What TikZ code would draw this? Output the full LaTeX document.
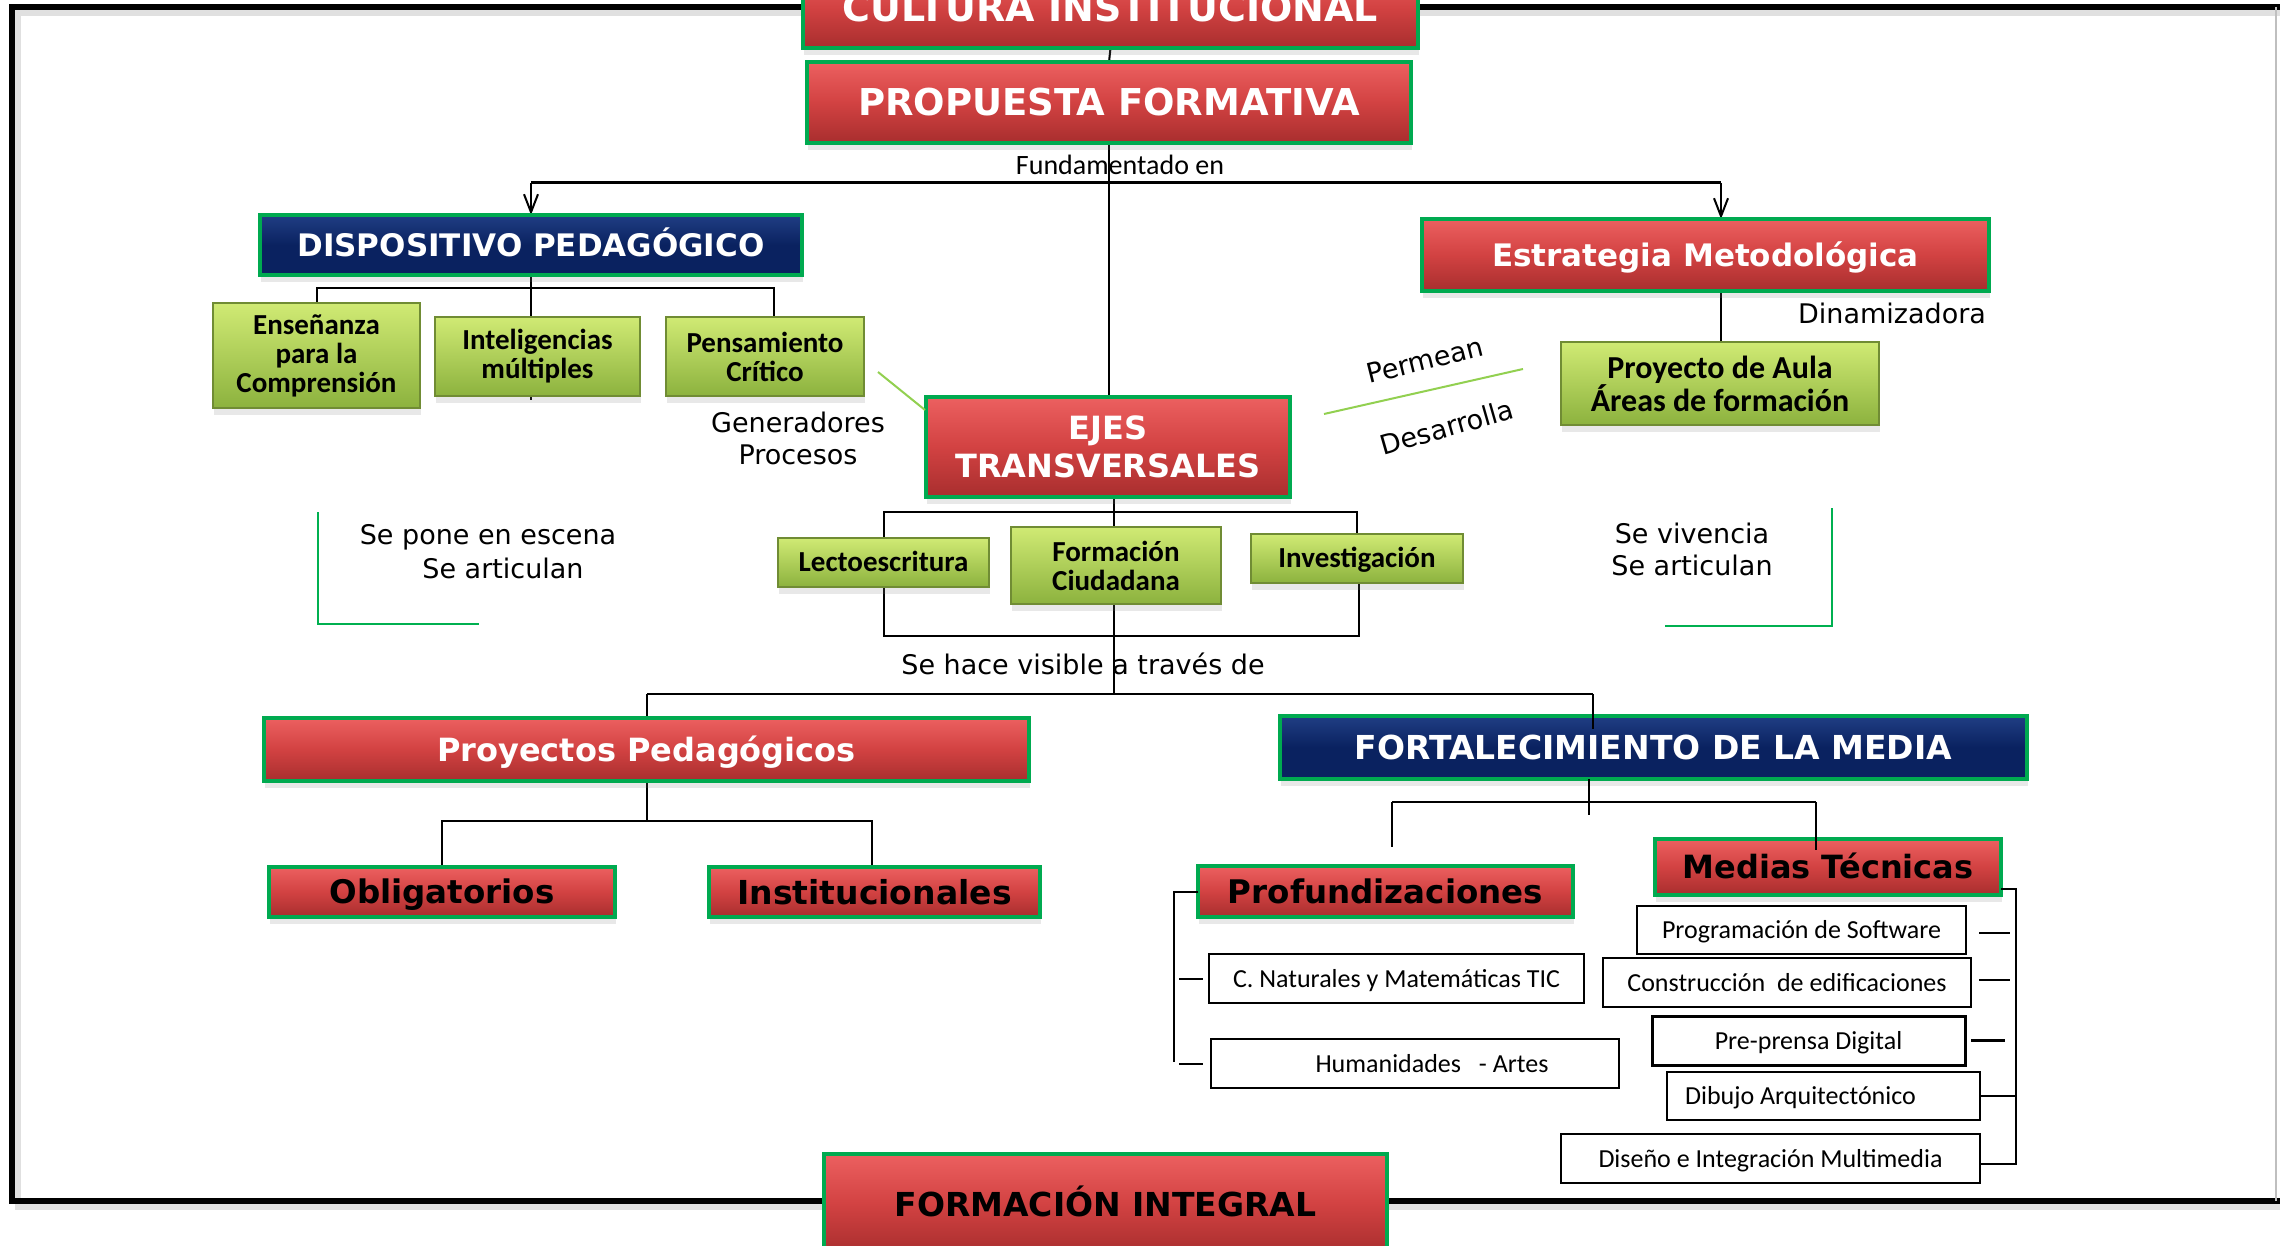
\documentclass[tikz,border=0pt]{standalone}
\usepackage{fontspec}
\setmainfont{DejaVu Sans}
\newfontfamily\calfont{Carlito}
\usetikzlibrary{arrows.meta,shadows,backgrounds}
\definecolor{gborder}{RGB}{0,170,80}
\definecolor{redtop}{RGB}{236,96,96}
\definecolor{redmid}{RGB}{210,66,66}
\definecolor{redbot}{RGB}{168,46,46}
\definecolor{bluetop}{RGB}{32,62,132}
\definecolor{bluebot}{RGB}{10,34,96}
\definecolor{lgtop}{RGB}{208,234,116}
\definecolor{lgbot}{RGB}{140,178,62}
\definecolor{lgdraw}{RGB}{112,140,52}
\definecolor{linegreen}{RGB}{146,208,80}
\definecolor{brgreen}{RGB}{0,176,80}
\newcommand\fs[2]{\fontsize{#1}{#2}\selectfont}
\tikzset{
  box/.style={rectangle, inner sep=0pt, outer sep=0pt, align=center,
    drop shadow={shadow xshift=1pt, shadow yshift=-7pt, opacity=0.18}},
  redbox/.style={box, top color=redtop, bottom color=redbot, middle color=redmid,
    draw=gborder, line width=3.5pt},
  bluebox/.style={box, top color=bluetop, bottom color=bluebot, middle color=bluebot,
    draw=gborder, line width=3.5pt},
  greenbox/.style={box, top color=lgtop, bottom color=lgbot, draw=lgdraw, line width=1.5pt,
    font=\calfont\fs{29}{29}\bfseries},
  whitebox/.style={rectangle, inner sep=0pt, outer sep=0pt, fill=white, draw=black,
    line width=2pt, font=\calfont\fs{26}{30}, text height=17pt, text depth=0pt},
  capc/.style={text height=#1, text depth=0pt},
  lbl/.style={inner sep=0pt, align=center, font=\fs{27}{32}},
  conn/.style={draw=black, line width=2pt},
  lgline/.style={draw=linegreen, line width=2pt},
  gbr/.style={draw=brgreen, line width=2.2pt},
  frame/.style={draw=black, line width=6pt},
  fshadow/.style={draw=black, opacity=0.12, line width=6pt},
  arr/.style={conn, -{Straight Barb[length=18pt,width=14pt,line width=2pt]}}
}
\begin{document}
\begin{tikzpicture}[x=1pt,y=-1pt]
\useasboundingbox (0,0) rectangle (2280,1246);
\clip (0,0) rectangle (2280,1246);

% ---------- main boxes ----------
\node[redbox, capc=27.7pt, minimum width=615, minimum height=80, font=\fs{38}{44}\bfseries, text=white] (cultura) at (1110.5,8) {CULTURA INSTITUCIONAL};
\node[redbox, capc=27pt, minimum width=604, minimum height=81, font=\fs{37}{44}\bfseries, text=white] (propuesta) at (1109,102.5) {PROPUESTA FORMATIVA};
\node[bluebox, capc=22.6pt, minimum width=542, minimum height=60, font=\fs{31}{36}\bfseries, text=white] (dispositivo) at (531,245) {DISPOSITIVO PEDAGÓGICO};
\node[redbox, capc=22.6pt, minimum width=567, minimum height=72, font=\fs{31}{36}\bfseries, text=white] (estrategia) at (1705.5,255) {Estrategia Metodológica};
\node[redbox, minimum width=364, minimum height=100, font=\fs{32}{38}\bfseries, text=white] (ejes) at (1108,447) {EJES\\TRANSVERSALES};

\node[greenbox, minimum width=207, minimum height=105] (ensenanza) at (316.5,355.5) {Enseñanza\\para la\\Comprensión};
\node[greenbox, minimum width=205, minimum height=79] (inteligencias) at (537.5,356.5) {Inteligencias\\múltiples};
\node[greenbox, minimum width=198, minimum height=79] (pensamiento) at (765,356.5) {Pensamiento\\Crítico};
\node[greenbox, minimum width=318, minimum height=83, font=\calfont\fs{32}{31}\bfseries] (proyaula) at (1720,383.5) {Proyecto de Aula\\Áreas de formación};

\node[greenbox, capc=18.7pt, minimum width=211, minimum height=49] (lecto) at (883.5,562.5) {Lectoescritura};
\node[greenbox, minimum width=210, minimum height=77] (formacion) at (1116,565.5) {Formación\\Ciudadana};
\node[greenbox, capc=18.7pt, minimum width=212, minimum height=49] (investigacion) at (1357,558.5) {Investigación};

\node[redbox, capc=23.4pt, minimum width=765, minimum height=63, font=\fs{32}{36}\bfseries, text=white] (proyped) at (646.5,749.5) {Proyectos Pedagógicos};
\node[bluebox, capc=24pt, minimum width=747, minimum height=63, font=\fs{33}{36}\bfseries, text=white] (fortalecimiento) at (1653.5,747.5) {FORTALECIMIENTO DE LA MEDIA};

\node[redbox, capc=23.7pt, minimum width=346, minimum height=50, font=\fs{32.5}{36}\bfseries, text=black] (obligatorios) at (442,892) {Obligatorios};
\node[redbox, capc=24pt, minimum width=331, minimum height=50, font=\fs{33}{36}\bfseries, text=black] (institucionales) at (874.5,892) {Institucionales};
\node[redbox, capc=23.7pt, minimum width=375, minimum height=51, font=\fs{32.5}{36}\bfseries, text=black] (profund) at (1385.5,891.5) {Profundizaciones};
\node[redbox, capc=23.4pt, minimum width=346, minimum height=56, font=\fs{32}{36}\bfseries, text=black] (medias) at (1828,867) {Medias Técnicas};
\node[redbox, capc=24pt, minimum width=563, minimum height=100, font=\fs{33}{36}\bfseries, text=black] (formint) at (1105.5,1204) {FORMACIÓN INTEGRAL};

% ---------- white boxes ----------
\node[whitebox, minimum width=375, minimum height=49] (cnat) at (1396.5,978.5) {C. Naturales y Matemáticas TIC};
\node[whitebox, minimum width=408, minimum height=49] (human) at (1415,1063.5) {\hspace*{34pt}Humanidades\hspace{12pt} - Artes};
\node[whitebox, minimum width=329, minimum height=48] (prog) at (1801.5,930) {Programación de Software};
\node[whitebox, minimum width=368, minimum height=49] (constr) at (1787,982.5) {Construcción\hspace{6pt} de edificaciones};
\node[whitebox, minimum width=313, minimum height=49, line width=3pt] (preprensa) at (1808.5,1040.5) {Pre-prensa Digital};
\node[whitebox, minimum width=313, minimum height=48] (dibujo) at (1823.5,1096) {Dibujo Arquitectónico\hspace*{46pt}};
\node[whitebox, minimum width=419, minimum height=49] (diseno) at (1770.5,1158.5) {Diseño e Integración Multimedia};

% ---------- labels ----------
\node[lbl, font=\calfont\fs{28}{32}] (fund) at (1120,165) {Fundamentado en};
\node[lbl] (gener) at (798,438) {Generadores\\Procesos};
\node[lbl] (escena) at (488,537) {Se pone en escena};
\node[lbl] (artic1) at (503,568) {Se articulan};
\node[lbl] (vivencia) at (1692,549) {Se vivencia\\Se articulan};
\node[lbl] (dinam) at (1892,313) {Dinamizadora};
\node[lbl] (visible) at (1083,664) {Se hace visible a través de};
\node[lbl, rotate=14] (permean) at (1425,360) {Permean};
\node[lbl, rotate=16] (desarrolla) at (1447,427) {Desarrolla};

% ---------- named junctions ----------
\coordinate (ft) at (0,7);
\coordinate (fb) at (0,1201);
\coordinate (jL) at (531,183);
\coordinate (jR) at (1721,183);
\coordinate (dL) at (316.5,288);
\coordinate (dR) at (774,288);
\coordinate (eL) at (884,512);
\coordinate (eR) at (1357,512);
\coordinate (bL) at (884,636);
\coordinate (bR) at (1359,636);
\coordinate (hL) at (647,694);
\coordinate (hR) at (1593,694);
\coordinate (pL) at (442,821);
\coordinate (pR) at (872,821);
\coordinate (fL) at (1392,802);
\coordinate (fR) at (1816,802);
\coordinate (gl1) at (878,372);
\coordinate (gl2) at (925,410);
\coordinate (pm1) at (1324,414);
\coordinate (pm2) at (1523,369);

\begin{scope}[on background layer]
  \fill[white] (0,0) rectangle (2280,1246);
  % frame with soft shadow
  \draw[fshadow] ([yshift=-6pt]cultura.west |- ft) -- (18,13) -- (18,1207) -- ([yshift=-6pt]formint.west |- fb);
  \draw[fshadow] ([yshift=-6pt]cultura.east |- ft) -- (2280,13);
  \draw[fshadow] ([yshift=-6pt]formint.east |- fb) -- (2280,1207);
  \draw[frame] (cultura.west |- ft) -- (12,7) -- (12,1201) -- (formint.west |- fb);
  \draw[frame] (cultura.east |- ft) -- (2280,7);
  \draw[frame] (formint.east |- fb) -- (2280,1201);
  \draw[draw=black!25, line width=2pt] (2276,7) -- (2276,1201);

  % top chain
  \draw[conn] (cultura.south) -- (propuesta.north);
  \draw[conn] (propuesta.south) -- (propuesta.south |- ejes.north);
  \draw[conn, line width=3pt] (jL) -- (jR);
  \draw[arr] (jL) -- (dispositivo.north);
  \draw[arr] (jR) -- (jR |- estrategia.north);

  % dispositivo children
  \draw[conn] (dispositivo.south) -- ++(0,125);
  \draw[conn] (ensenanza.north) -- (dL) -- (dR) -- (dR |- pensamiento.north);

  % estrategia -> proyecto de aula
  \draw[conn] (jR |- estrategia.south) -- (jR |- proyaula.north);

  % ejes children
  \draw[conn] ([xshift=6pt]ejes.south) -- ++(0,197);
  \draw[conn] (eL |- lecto.north) -- (eL) -- (eR) -- (eR |- investigacion.north);
  \draw[conn] (bL |- lecto.south) -- (bL) -- (bR) -- (bR |- investigacion.south);

  % se hace visible branch
  \draw[conn] (hL) -- (hR);
  \draw[conn] (hL) -- (hL |- proyped.north);

  % proyectos pedagogicos children
  \draw[conn] (proyped.south) -- (proyped.south |- pL);
  \draw[conn] (pL |- obligatorios.north) -- (pL) -- (pR) -- (pR |- institucionales.north);
\end{scope}

% connectors drawn over boxes
\draw[conn] (hR) -- ([yshift=-13pt]hR |- fortalecimiento.north);
\draw[conn] ([xshift=-64.5pt]fortalecimiento.south) -- ++(0,36);
\draw[conn] (fL) -- (fR);
\draw[conn] (fL) -- ++(0,45);
\draw[conn] (fR) -- ([yshift=-11pt]fR |- medias.north);

% profundizaciones bracket
\draw[conn] (profund.west) -- ++(-24,0) -- ++(0,170);
\draw[conn] ([xshift=-30pt]cnat.west) -- ([xshift=-6pt]cnat.west);
\draw[conn] ([xshift=-32pt]human.west) -- ([xshift=-8pt]human.west);

% medias tecnicas bracket
\draw[conn] ([yshift=-22pt]medias.east) -- ++(15,0) -- ++(0,275) -- ++(-36,0);
\draw[conn] ([xshift=13pt,yshift=-3pt]prog.east) -- ++(31,0);
\draw[conn] ([xshift=8pt,yshift=2.5pt]constr.east) -- ++(31,0);
\draw[conn, line width=3.5pt] ([xshift=6pt]preprensa.east) -- ++(34,0);
\draw[conn] (dibujo.east) -- ++(36,0);

% green lines
\draw[lgline] (gl1) -- (gl2);
\draw[lgline] (pm1) -- (pm2);
\draw[gbr] (318,512) -- (318,624) -- (479,624);
\draw[gbr] (1832,508) -- (1832,626) -- (1665,626);
\end{tikzpicture}
\end{document}
